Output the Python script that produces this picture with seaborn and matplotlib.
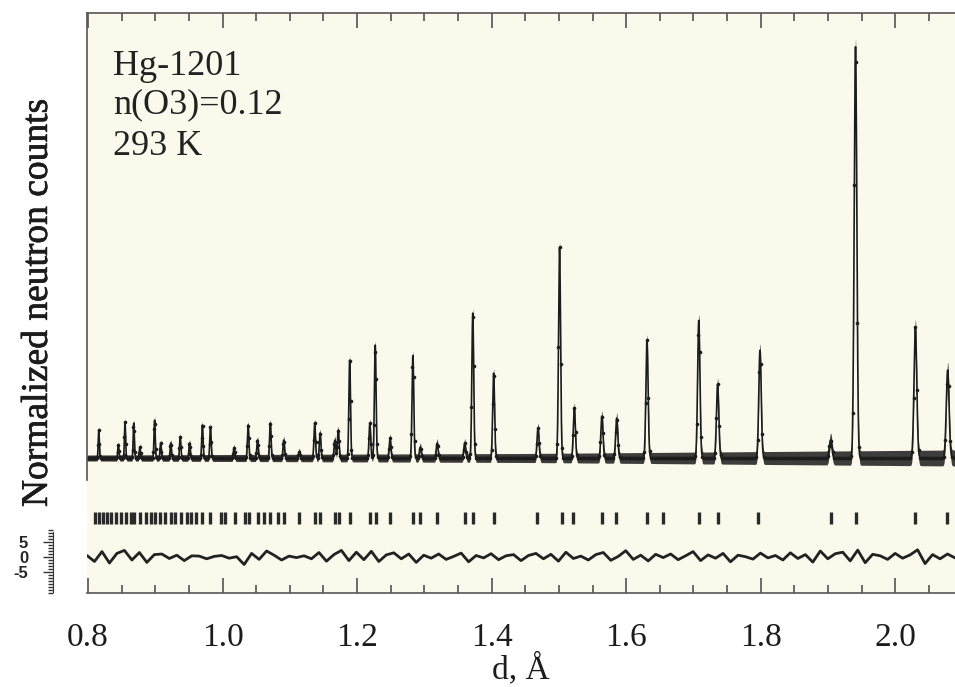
import numpy as np
import matplotlib
matplotlib.use("Agg")
import matplotlib.pyplot as plt
import matplotlib.patheffects as pe
import seaborn as sns
from matplotlib.ticker import MultipleLocator, FormatStrFormatter

# peak positions (d, A) and heights (normalized counts)
peak_d = [0.816, 0.845, 0.855, 0.868, 0.877, 0.899, 0.908, 0.923, 0.937, 0.951,
          0.970, 0.982, 1.017, 1.038, 1.052, 1.071, 1.091, 1.114, 1.137, 1.145,
          1.167, 1.172, 1.189, 1.219, 1.227, 1.249, 1.283, 1.294, 1.319, 1.360,
          1.372, 1.403, 1.469, 1.501, 1.523, 1.564, 1.586, 1.631, 1.708, 1.736,
          1.799, 1.904, 1.941, 2.030, 2.078]
peak_h = [28, 13, 36, 35, 11, 38, 15, 15, 21, 15,
          33, 31, 10, 33, 18, 35, 18, 6, 35, 25,
          18, 28, 98, 35, 113, 20, 103, 11, 15, 15,
          145, 85, 30, 211, 50, 42, 40, 118, 138, 74,
          108, 18, 413, 131, 88]

# reflection markers
refl_d = [0.810, 0.816, 0.822, 0.828, 0.834, 0.841, 0.849, 0.856, 0.864, 0.868,
          0.877, 0.886, 0.893, 0.899, 0.907, 0.914, 0.923, 0.929, 0.938, 0.947,
          0.953, 0.960, 0.970, 0.981, 0.997, 1.003, 1.018, 1.033, 1.039, 1.053,
          1.062, 1.071, 1.083, 1.092, 1.114, 1.138, 1.145, 1.167, 1.173, 1.190,
          1.219, 1.228, 1.249, 1.283, 1.293, 1.319, 1.360, 1.372, 1.403, 1.468,
          1.505, 1.521, 1.564, 1.585, 1.631, 1.655, 1.708, 1.736, 1.796, 1.904,
          1.942, 2.030, 2.077]

# difference curve (obs - calc)
diff_vals = [0.5, -1.5, 1.8, -2.0, 1.2, 2.2, -1.0, 1.5, -1.8, 0.8, 1.0, -0.5, 0.6, -1.2, 0.4,
             0.3, -0.6, 0.2, 0.5, -0.4, 0.1, -2.5, 1.2, -0.8, 2.0, 0.6, -1.0, 0.3, -0.2,
             0.4, -0.6, 1.5, -1.4, 0.8, 2.2, -1.2, 1.6, -0.9, 1.9, -1.5, 0.7, 1.4, -0.6, 1.0, -1.8,
             0.6, -0.4, 1.0, -0.8, 0.2, 1.3, -1.6, 0.5, -0.3, 1.1, -0.9, 0.4, 0.8, -1.2, 0.5, 1.2,
             -0.6, 0.9, -1.4, 1.6, -0.5, 0.3, -1.0, 0.8, 1.5, -1.1, 0.2, 2.1, -0.8, 0.6, -1.3, 0.9,
             -0.2, 1.0, -0.9, 0.4, 1.8, -1.2, 0.7, -0.4, 1.2, -1.6, 0.6, 0.1, -0.7, 1.3, -0.3, 0.5,
             -1.0, 1.4, -0.5, 0.8, -1.7, 2.0, -0.6, 1.1, 1.6, -1.3, 2.3, -1.9, 0.9, 0.4, -0.8, 1.2,
             -0.4, 0.7, 2.4, -2.2, 0.8, -0.6, 1.0, -0.3]

sample_lines = ["Hg-1201", "n(O3)=0.12", "293 K"]

d_min, d_max = 0.7985, 2.0889
W, H = 955, 687
ink = '#1c1c1c'

sns.set_style("ticks")
plt.rcParams['font.family'] = ['Liberation Serif', 'DejaVu Serif']


def fx(px):
    return px / W


def fy(py):
    return 1 - py / H


fig = plt.figure(figsize=(W / 100, H / 100), dpi=100)
fig.patch.set_facecolor('white')

ax = fig.add_axes([fx(87), fy(593), fx(955) - fx(87), fy(13) - fy(593)])
ax.set_facecolor('#fbf9ec')

# profile built from the peak list
d = np.geomspace(d_min, d_max, 4800)
calc = np.zeros_like(d)
for p, h in zip(peak_d, peak_h):
    s = 0.0010 * p
    calc += h * np.exp(-(d - p) ** 2 / (2 * s ** 2))

# scatter band of the observed points widens towards long d
band = np.interp(d, [d_min, 1.45, d_max], [3.0, 4.5, 8.0])
ax.fill_between(d, calc - band, calc + band, color=ink, lw=0, alpha=0.85)
sns.lineplot(x=d, y=calc, ax=ax, color=ink, lw=1.2, marker='o',
             markersize=2.6, markeredgewidth=0, markevery=6)
ax.vlines(refl_d, -66, -54, color='#2a2a2a', lw=2.4)

diff_d = np.linspace(d_min, d_max, len(diff_vals))
sns.lineplot(x=diff_d, y=-99 + 3 * np.array(diff_vals), ax=ax, color='#222222', lw=2.0)

ax.set_xlim(d_min, d_max)
ax.set_ylim(-135, 445)
ax.set_yticks([])
ax.xaxis.set_major_locator(MultipleLocator(0.2))
ax.xaxis.set_minor_locator(MultipleLocator(0.05))
ax.xaxis.set_major_formatter(FormatStrFormatter('%.1f'))
ax.tick_params(axis='x', which='both', direction='in', top=True, bottom=True,
               color='#444444', width=1.1, labelsize=24, pad=21, labelcolor=ink)
ax.tick_params(axis='x', which='major', length=11)
ax.tick_params(axis='x', which='minor', length=6)
ax.spines['right'].set_visible(False)
ax.spines['left'].set_bounds(-22, 445)
for sp in ['top', 'bottom', 'left']:
    ax.spines[sp].set_color('#555555')
    ax.spines[sp].set_linewidth(1.2)

ax.set_xlabel('d, Å', fontsize=24, labelpad=0, color=ink)
ax.set_ylabel('Normalized neutron counts', fontsize=27, color=ink,
              path_effects=[pe.withStroke(linewidth=0.5, foreground=ink)])
ax.yaxis.set_label_coords(-0.037, 0.5)

for line, py in zip(sample_lines, [75, 113, 155]):
    ax.text((113 - 87) / 868, (593 - py) / 580, line, transform=ax.transAxes,
            fontsize=26, va='baseline', ha='left', color='#222222')

# small scale for the difference curve
sax = fig.add_axes([fx(53), fy(595), 0.001, fy(530) - fy(595)])
sax.set_facecolor('none')
sax.set_ylim(-(595 - 557) / 3, (557 - 530) / 3)
sax.set_xticks([])
for sp in ['top', 'bottom', 'right']:
    sax.spines[sp].set_visible(False)
sax.spines['left'].set_bounds(-11.5, 8.3)
sax.spines['left'].set_color('#333333')
sax.set_yticks([-5, 0, 5])
sax.set_yticklabels(['-5', '0', '5'], fontsize=12, fontweight='bold',
                    family=['Liberation Sans', 'DejaVu Sans'])
sax.yaxis.set_minor_locator(MultipleLocator(1))
sax.tick_params(axis='y', which='both', direction='out', color='#333333', width=1)
sax.tick_params(axis='y', which='major', length=7, pad=11)
sax.tick_params(axis='y', which='minor', length=3.5)

fig.savefig('out.png', dpi=100)
